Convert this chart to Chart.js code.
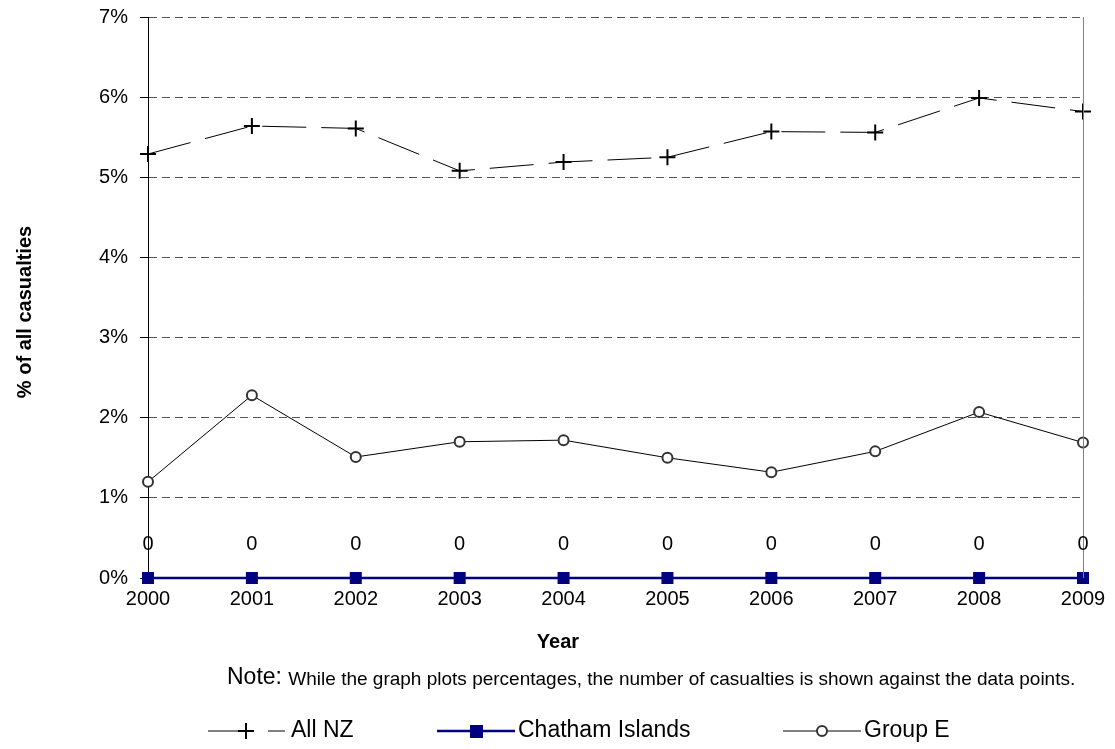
<!DOCTYPE html>
<html>
<head>
<meta charset="utf-8">
<script src="https://cdn.jsdelivr.net/npm/chart.js@4/dist/chart.umd.min.js"></script>
<style>
  html, body { margin: 0; padding: 0; background: #fff; }
  #wrap { width: 1115px; height: 749px; position: relative; }
</style>
</head>
<body>
<div id="wrap"><canvas id="chart"></canvas></div>
<script>
// DATA
const years = ["2000", "2001", "2002", "2003", "2004", "2005", "2006", "2007", "2008", "2009"];
const allNZ = [5.29, 5.64, 5.61, 5.08, 5.19, 5.25, 5.57, 5.56, 5.99, 5.82];
const chatham = [0, 0, 0, 0, 0, 0, 0, 0, 0, 0];
const chathamCounts = [0, 0, 0, 0, 0, 0, 0, 0, 0, 0];
const groupE = [1.20, 2.28, 1.51, 1.70, 1.72, 1.50, 1.32, 1.58, 2.07, 1.69];
const yTicks = [0, 1, 2, 3, 4, 5, 6, 7];

const FONT = "'Liberation Sans', Arial, sans-serif";
const NAVY = "#000080";

// counts above the Chatham points, titles, frame, note and legend
const extras = {
  id: "extras",
  afterDatasetsDraw(chart) {
    const { ctx, chartArea, scales } = chart;
    ctx.save();
    // right frame line
    ctx.strokeStyle = "#808080";
    ctx.lineWidth = 1;
    ctx.beginPath();
    ctx.moveTo(chartArea.right + 0.5, chartArea.top);
    ctx.lineTo(chartArea.right + 0.5, chartArea.bottom);
    ctx.stroke();

    // counts
    ctx.fillStyle = "#000";
    ctx.font = "20px " + FONT;
    ctx.textAlign = "center";
    ctx.textBaseline = "middle";
    chathamCounts.forEach((c, i) => {
      const x = scales.x.getPixelForValue(i);
      const y = scales.y.getPixelForValue(chatham[i]) - 34;
      ctx.fillText(String(c), x, y);
    });

    // axis titles
    ctx.font = "bold 20px " + FONT;
    ctx.fillText("Year", 558, 642);
    ctx.save();
    ctx.translate(25, 312);
    ctx.rotate(-Math.PI / 2);
    ctx.fillText("% of all casualties", 0, 0);
    ctx.restore();

    // note
    ctx.textAlign = "left";
    ctx.font = "23px " + FONT;
    ctx.fillText("Note:", 227, 678);
    const nw = ctx.measureText("Note: ").width;
    ctx.font = "19px " + FONT;
    ctx.fillText("While the graph plots percentages, the number of casualties is shown against the data points.", 227 + nw, 680);

    // legend
    const ly = 731;
    ctx.font = "23px " + FONT;
    // All NZ
    ctx.strokeStyle = "#000";
    ctx.lineWidth = 1;
    ctx.beginPath(); ctx.moveTo(208, ly); ctx.lineTo(252, ly); ctx.stroke();
    ctx.beginPath(); ctx.moveTo(268, ly); ctx.lineTo(285, ly); ctx.stroke();
    ctx.lineWidth = 2;
    ctx.beginPath();
    ctx.moveTo(246, ly - 8); ctx.lineTo(246, ly + 8);
    ctx.moveTo(238, ly); ctx.lineTo(254, ly);
    ctx.stroke();
    ctx.fillText("All NZ", 291, ly);
    // Chatham Islands
    ctx.strokeStyle = NAVY;
    ctx.lineWidth = 2.5;
    ctx.beginPath(); ctx.moveTo(437, ly); ctx.lineTo(515, ly); ctx.stroke();
    ctx.fillStyle = NAVY;
    ctx.fillRect(470, ly - 6, 13, 13);
    ctx.fillStyle = "#000";
    ctx.fillText("Chatham Islands", 518, ly);
    // Group E
    ctx.strokeStyle = "#000";
    ctx.lineWidth = 1;
    ctx.beginPath(); ctx.moveTo(783, ly); ctx.lineTo(861, ly); ctx.stroke();
    ctx.strokeStyle = "#333";
    ctx.lineWidth = 2;
    ctx.fillStyle = "#fff";
    ctx.beginPath(); ctx.arc(822, ly, 5, 0, Math.PI * 2); ctx.fill(); ctx.stroke();
    ctx.fillStyle = "#000";
    ctx.fillText("Group E", 864, ly);
    ctx.restore();
  }
};

const ctx = document.getElementById("chart").getContext("2d");
const chart = new Chart(ctx, {
  type: "line",
  data: {
    labels: years,
    datasets: [
      {
        label: "All NZ",
        data: allNZ,
        borderColor: "#000",
        borderWidth: 1,
        borderDash: [44, 15],
        pointStyle: "cross",
        pointRadius: 8,
        pointBorderWidth: 2,
        pointBorderColor: "#000",
        tension: 0,
        clip: false
      },
      {
        label: "Chatham Islands",
        data: chatham,
        borderColor: NAVY,
        backgroundColor: NAVY,
        borderWidth: 2.5,
        pointStyle: "rect",
        pointRadius: 8.5,
        pointBackgroundColor: NAVY,
        pointBorderColor: NAVY,
        pointBorderWidth: 0,
        tension: 0,
        clip: false
      },
      {
        label: "Group E",
        data: groupE,
        borderColor: "#000",
        borderWidth: 1,
        pointStyle: "circle",
        pointRadius: 5,
        pointBorderWidth: 2,
        pointBorderColor: "#333",
        pointBackgroundColor: "#fff",
        tension: 0,
        clip: false
      }
    ]
  },
  options: {
    responsive: true,
    maintainAspectRatio: false,
    animation: false,
    layout: { padding: { left: 0, top: 17, right: 32, bottom: 0 } },
    plugins: {
      legend: { display: false },
      tooltip: { enabled: false }
    },
    scales: {
      x: {
        offset: false,
        afterFit(scale) { scale.height = 171; },
        grid: { drawOnChartArea: false, tickLength: 6, color: "#808080" },
        border: { display: true, color: "#000", width: 1 },
        ticks: { color: "#000", font: { family: FONT, size: 20 }, padding: 3, maxRotation: 0, autoSkip: false }
      },
      y: {
        min: 0,
        max: 7,
        afterFit(scale) {
          scale.width = 148;
          scale.paddingTop = 0;
          scale.paddingBottom = 0;
        },
        afterBuildTicks(scale) { scale.ticks = yTicks.map(v => ({ value: v })); },
        grid: { color: "#555", tickLength: 8, tickColor: "#000", tickBorderDash: [], lineWidth: 1 },
        border: { display: true, color: "#000", width: 1, dash: [8, 5] },
        ticks: {
          color: "#000", font: { family: FONT, size: 20 }, padding: 12,
          callback: v => v + "%"
        }
      }
    }
  },
  plugins: [extras]
});
</script>
</body>
</html>
